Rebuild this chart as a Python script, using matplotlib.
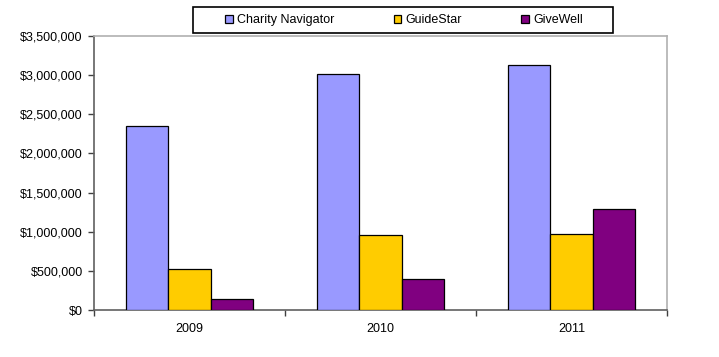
import matplotlib
matplotlib.use("Agg")
import matplotlib.pyplot as plt
import numpy as np
from matplotlib.ticker import FuncFormatter, FixedLocator
from matplotlib.patches import Patch, Rectangle

plt.rcParams['font.family'] = ['Liberation Sans', 'DejaVu Sans']

years = ["2009", "2010", "2011"]
series_names = ["Charity Navigator", "GuideStar", "GiveWell"]
charity_navigator = [2350000, 3010000, 3130000]
guidestar = [520000, 955000, 970000]
givewell = [140000, 395000, 1295000]
colors = ["#9999FF", "#FFCC00", "#800080"]

W, H = 719, 357
fig = plt.figure(figsize=(W/100, H/100), dpi=100)
ax = fig.add_axes([94/W, 1-310/H, (667-94)/W, (310-36)/H])

x = np.arange(len(years))
w = 0.22
for i, (vals, c, name) in enumerate(zip([charity_navigator, guidestar, givewell], colors, series_names)):
    ax.bar(x + (i-1)*w, vals, width=w, color=c, edgecolor="black", linewidth=0.9, label=name, zorder=3)

ax.set_xlim(-0.5, len(years)-0.5)
ax.set_ylim(0, 3500000)
ax.set_yticks(np.arange(0, 3500001, 500000))
ax.yaxis.set_major_formatter(FuncFormatter(lambda v, p: "${:,.0f}".format(v)))
ax.set_xticks(x)
ax.set_xticklabels(years)
ax.tick_params(axis='x', which='major', length=0, pad=9, labelsize=9)
ax.xaxis.set_minor_locator(FixedLocator(np.arange(-0.5, len(years), 1.0)))
ax.tick_params(axis='x', which='minor', length=4, width=1, color="#404040", direction='out')
ax.tick_params(axis='y', length=4, width=1, color="#404040", labelsize=9, pad=4)

for s in ['left', 'bottom']:
    ax.spines[s].set_color("#606060")
    ax.spines[s].set_linewidth(1.2)
for s in ['top', 'right']:
    ax.spines[s].set_color("#b0b0b0")
    ax.spines[s].set_linewidth(1.2)

# legend frame
fig.add_artist(Rectangle((193/W, 1-33/H), (613-193)/W, 26/H, transform=fig.transFigure,
                         facecolor="white", edgecolor="black", linewidth=1.2))
handles = [Patch(facecolor=c, edgecolor="black", linewidth=0.9) for c in colors]
leg = fig.legend(handles, series_names, loc='center', ncol=3,
                 bbox_to_anchor=(404/W, 1-20/H),
                 frameon=False, fontsize=9,
                 handlelength=0.6, handleheight=0.6, handletextpad=0.35,
                 columnspacing=4.75, borderpad=0.3)

fig.savefig("out.png", dpi=100)
